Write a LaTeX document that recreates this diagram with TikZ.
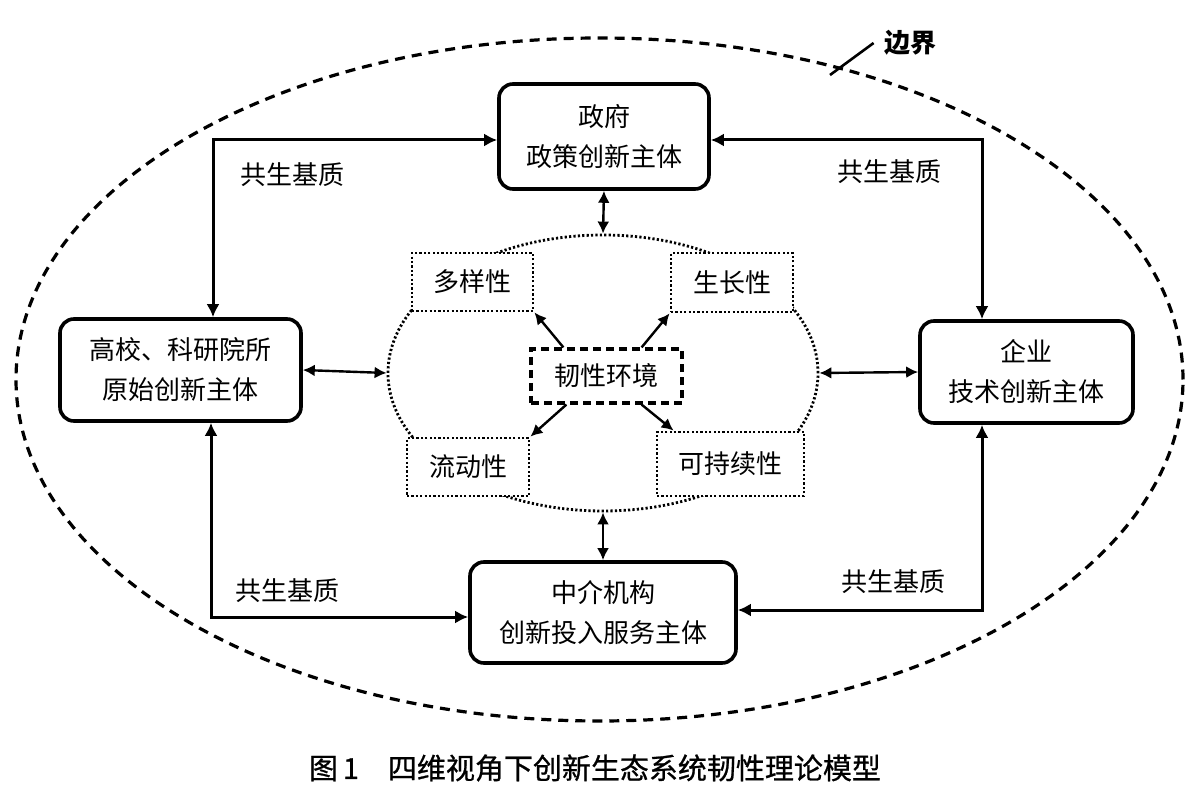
\documentclass[tikz,border=0pt]{standalone}
\usepackage{fontspec}
\setmainfont{Noto Sans CJK SC}
\newfontfamily\capfont{Noto Sans CJK SC}[FakeBold=0.8]
\usetikzlibrary{arrows.meta,shapes.geometric}

\begin{document}
\begin{tikzpicture}[x=0.5pt, y=-0.5pt,
    every node/.style={font=\fontsize{13}{20}\selectfont},
    actor/.style={draw, line width=1.8pt, rounded corners=7pt, align=center, inner sep=0pt},
    trait/.style={draw, fill=white, line width=1.4pt, dash pattern=on 1.1pt off 1.1pt, inner sep=0pt},
    link/.style={{Latex[length=6.5pt,width=6.5pt]}-{Latex[length=6.5pt,width=6.5pt]}, line width=1.5pt},
    pair/.style={{Latex[length=6pt,width=6pt]}-{Latex[length=6pt,width=6pt]}, line width=1.2pt},
    spoke/.style={-{Latex[length=6pt,width=6pt]}, line width=1.2pt}]
    \useasboundingbox (0,0) rectangle (1200,802);
    % boundary of the system
    \draw[line width=1.6pt, dash pattern=on 5pt off 3.5pt]
        (599.5,379.5) ellipse [x radius=291.75pt, y radius=170.75pt];
    \node[font=\bfseries\fontsize{13}{13}\selectfont, inner sep=5pt] (bnd) at (910,43) {边界};
    \coordinate (bt) at (830,75);
    \draw[line width=1.3pt] (bt) -- (bnd.west);
    % resilience environment
    \node[ellipse, draw, line width=1.4pt, dash pattern=on 1.1pt off 1.1pt, inner sep=0pt,
        minimum width=215pt, minimum height=138pt] (cloud) at (603,373) {};
    \node[trait, minimum width=60.5pt, minimum height=29pt] (div) at (472.5,282) {多样性};
    \node[trait, minimum width=61pt, minimum height=29.5pt] (grow) at (732,282.5) {生长性};
    \node[trait, minimum width=61pt, minimum height=29pt] (flow) at (468,467) {流动性};
    \node[trait, minimum width=73.5pt, minimum height=32pt] (sus) at (730.5,464) {可持续性};
    \node[draw, fill=white, line width=1.6pt, dash pattern=on 4pt off 2.5pt, inner sep=0pt,
        minimum width=75.5pt, minimum height=27pt] (env) at (606.5,376) {韧性环境};
    \draw[spoke] ([xshift=17pt]env.north west) -- (div.south east);
    \draw[spoke] ([xshift=-21pt]env.north east) -- (grow.south west);
    \draw[spoke] ([xshift=18.5pt]env.south west) -- (flow.north east);
    \draw[spoke] ([xshift=-21pt]env.south east) -- ([xshift=9pt]sus.north west);
    % innovation actors
    \node[actor, minimum width=105pt, minimum height=52.5pt] (gov) at (604,136.5)
        {政府\\政策创新主体};
    \node[actor, minimum width=120.5pt, minimum height=51pt] (univ) at (180.5,370)
        {高校、科研院所\\原始创新主体};
    \node[actor, minimum width=106.5pt, minimum height=51pt] (firm) at (1026.5,372)
        {企业\\技术创新主体};
    \node[actor, minimum width=133pt, minimum height=50.5pt] (agency) at (603,612.5)
        {中介机构\\创新投入服务主体};
    \draw[pair] (gov.south) -- (cloud.north);
    \draw[pair] (cloud.south) -- (agency.north);
    \draw[pair] (univ.east) -- (cloud.west);
    \draw[pair] (cloud.east) -- (firm.west);
    % symbiotic matrix
    \coordinate (tl) at (213,140);
    \coordinate (tr) at (982,140);
    \coordinate (bl) at (211,617);
    \coordinate (br) at (982,610);
    \draw[link] (gov.west |- tl) -- (tl) -- (tl |- univ.north);
    \draw[link] (gov.east |- tr) -- (tr) -- (tr |- firm.north);
    \draw[link] (bl |- univ.south) -- (bl) -- (agency.west |- bl);
    \draw[link] (agency.east |- br) -- (br) -- (br |- firm.south);
    \node (m1) at (292,175) {共生基质};
    \node (m2) at (889,172) {共生基质};
    \node (m3) at (287,591) {共生基质};
    \node (m4) at (893,582) {共生基质};
    % caption
    \node[font=\capfont\fontsize{14.5}{14.5}\selectfont] (cap) at (595,768)
        {图\,1\quad 四维视角下创新生态系统韧性理论模型};
\end{tikzpicture}
\end{document}
